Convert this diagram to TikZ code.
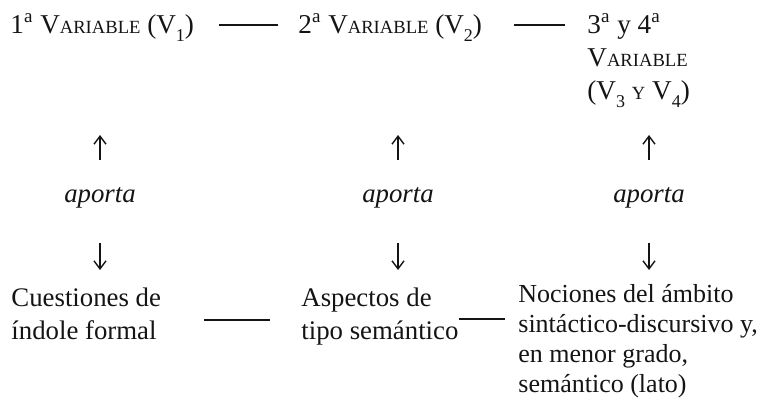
\documentclass[tikz,border=0pt]{standalone}
\usepackage{fontspec}
\setmainfont{Liberation Serif}
\usepackage{xcolor}
\definecolor{cInk}{HTML}{141414}
\usepackage{tikz}
\usetikzlibrary{positioning,arrows.meta,calc}
% versalitas simuladas (Liberation Serif no tiene smcp)
\newcommand{\vsc}[1]{{\fontsize{9.3}{12}\selectfont #1}}
\newcommand{\vsub}[1]{\raisebox{-4.3pt}{\fontsize{9}{9}\selectfont #1}}
\tikzset{
  node-var/.style={anchor=base west,inner sep=0pt,align=left,text=cInk,
    font=\fontsize{13.6}{16.5}\selectfont},
  node-lab/.style={anchor=base,inner sep=0pt,text=cInk,
    font=\fontsize{13.4}{16}\selectfont\itshape},
  node-txt/.style={anchor=base west,inner sep=0pt,align=left,text=cInk,
    font=\fontsize{13.4}{16.5}\selectfont},
  arrow/.style={-{Straight Barb[length=4pt,width=6pt]},line width=0.7pt,draw=cInk},
  link/.style={line width=0.6pt,draw=cInk},
}

\begin{document}
\begin{tikzpicture}[x=0.5pt,y=-0.5pt]
  \useasboundingbox (0,0) rectangle (760,407);
  % variables (el ancla base de un nodo de varias lineas es la ultima linea)
  \node[node-var] (v1)  at (10,33)  {1\textsuperscript{a} V\vsc{ARIABLE} (V\vsub{1})};
  \node[node-var] (v2)  at (298,33) {2\textsuperscript{a} V\vsc{ARIABLE} (V\vsub{2})};
  \node[node-var] (v34) at (587,99) {3\textsuperscript{a} y 4\textsuperscript{a}\\ V\vsc{ARIABLE}\\ (V\vsub{3} \vsc{Y} V\vsub{4})};
  % aporta
  \node[node-lab] (ap1) at (100,202) {aporta};
  \node[node-lab] (ap2) at (398,202) {aporta};
  \node[node-lab] (ap3) at (649,202) {aporta};
  % contenidos
  \node[node-txt] (b1) at (11,339)  {Cuestiones de\\ índole formal};
  \node[node-txt] (b2) at (301,339) {Aspectos de\\ tipo semántico};
  \node[node-txt,font=\fontsize{13}{15}\selectfont] (b3) at (518,392)
    {Nociones del ámbito\\ sintáctico-discursivo y,\\ en menor grado,\\ semántico (lato)};
  \foreach \c in {1,2,3} {
    \coordinate[above=21pt of ap\c.base] (ua\c);
    \coordinate[above=33.5pt of ap\c.base] (ub\c);
    \coordinate[below=20.5pt of ap\c.base] (da\c);
    \coordinate[below=34pt of ap\c.base] (db\c);
    \draw[arrow] (ua\c) -- (ub\c);
    \draw[arrow] (da\c) -- (db\c);
  }
  % rayas de enlace
  \draw[link] ([shift={(25,-8)}]v1.base east) -- ([shift={(-20,-8)}]v2.base west);
  \draw[link] ([shift={(32,-8)}]v2.base east) -- ([shift={(-22,-74)}]v34.base west);
  \draw[link] ([shift={(43,-19)}]b1.base east) -- ([shift={(-31,-19)}]b2.base west);
  \draw[link] ([shift={(0,-20)}]b2.base east) -- ([shift={(-13,-73)}]b3.base west);
\end{tikzpicture}
\end{document}
